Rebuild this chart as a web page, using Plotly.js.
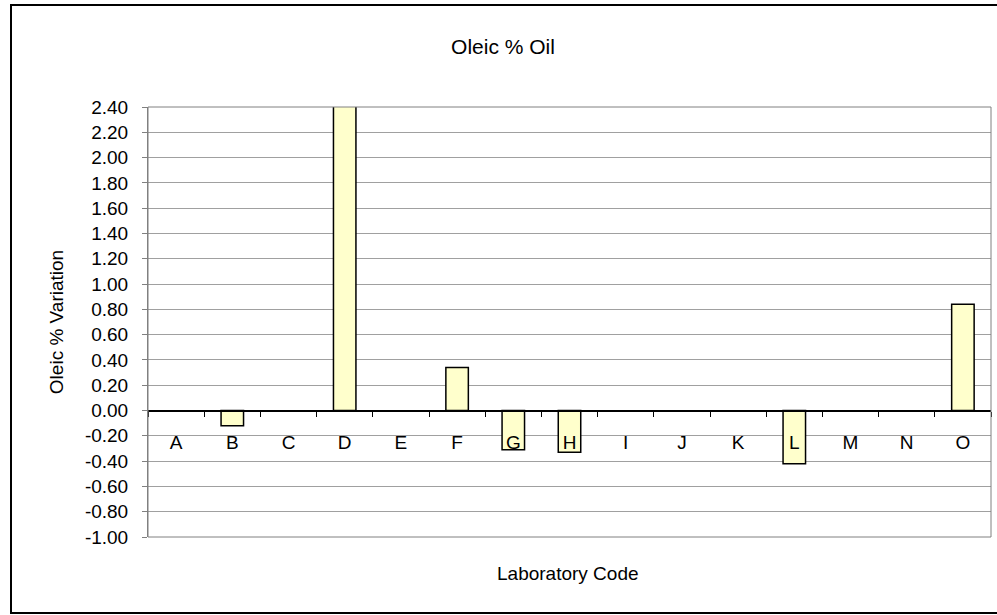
<!DOCTYPE html>
<html>
<head>
<meta charset="utf-8">
<script src="https://cdn.plot.ly/plotly-3.0.1.min.js"></script>
<style>body{margin:0;padding:0;background:#fff;}#chart{width:997px;height:615px;}</style>
</head>
<body>
<div id="chart"></div>
<script>
const labs = ["A","B","C","D","E","F","G","H","I","J","K","L","M","N","O"];
const variation = [null, -0.12, null, 2.60, null, 0.34, -0.31, -0.33, null, null, null, -0.42, null, null, 0.84];
const yTickVals = [-1.0,-0.8,-0.6,-0.4,-0.2,0,0.2,0.4,0.6,0.8,1.0,1.2,1.4,1.6,1.8,2.0,2.2,2.4];
const yTickLabels = ["-1.00","-0.80","-0.60","-0.40","-0.20","0.00","0.20","0.40","0.60","0.80","1.00","1.20","1.40","1.60","1.80","2.00","2.20","2.40"];
const yRange = [-1.0, 2.4];
const chartTitle = "Oleic % Oil";
const yTitle = "Oleic % Variation";
const xTitle = "Laboratory Code";

const W = 997, H = 615;
const m = {l: 148, r: 6, t: 107, b: 78};
const pw = W - m.l - m.r, ph = H - m.t - m.b;
const font = {family: "Liberation Sans, Arial, sans-serif", size: 19, color: "#000"};
const titleFont = {family: "Liberation Sans, Arial, sans-serif", size: 21, color: "#000"};

const trace = {
  type: "bar",
  x: labs,
  y: variation,
  marker: {color: "#FFFFCC", line: {color: "#000", width: 1.5}},
  width: 0.4,
  cliponaxis: true,
  hoverinfo: "x+y"
};

const zeroPos = (0 - yRange[0]) / (yRange[1] - yRange[0]);

const layout = {
  width: W, height: H,
  margin: m,
  paper_bgcolor: "#fff",
  plot_bgcolor: "#fff",
  font: font,
  showlegend: false,
  title: {text: chartTitle, font: titleFont, x: (503 - m.l) / pw, xref: "paper", xanchor: "center", y: (H - 47) / H, yanchor: "middle"},
  xaxis: {
    type: "category",
    anchor: "free",
    position: zeroPos,
    showline: true, linecolor: "#000", linewidth: 2,
    ticks: "outside", tickson: "boundaries", ticklen: 5, tickcolor: "#000", tickwidth: 1,
    ticklabelstandoff: 15,
    showgrid: false,
    zeroline: false,
    tickfont: font
  },
  yaxis: {
    range: yRange,
    tickmode: "array",
    tickvals: yTickVals,
    ticktext: yTickLabels,
    ticks: "outside", ticklen: 5, tickcolor: "#808080",
    showline: true, linecolor: "#808080", linewidth: 1,
    showgrid: true, gridcolor: "#a0a0a0", gridwidth: 1,
    zeroline: false,
    ticklabelstandoff: 10,
    tickfont: font,
    title: {text: yTitle, font: font, standoff: 16}
  },
  annotations: [
    {text: xTitle, xref: "paper", yref: "paper", x: (568 - m.l) / pw, y: -(573 - (m.t + ph)) / ph,
     showarrow: false, font: font, xanchor: "center", yanchor: "middle"}
  ],
  shapes: [
    {type: "rect", xref: "paper", yref: "paper", x0: 0, x1: 1, y0: 0, y1: 1,
     line: {color: "#808080", width: 1}, fillcolor: "rgba(0,0,0,0)", layer: "above"},
    {type: "rect", xref: "paper", yref: "paper",
     x0: (11 - m.l) / pw, x1: (W + 30 - m.l) / pw,
     y0: -(613 - (m.t + ph)) / ph, y1: 1 + (m.t - 5) / ph,
     line: {color: "#000", width: 2}, fillcolor: "rgba(0,0,0,0)", layer: "above"}
  ]
};

Plotly.newPlot("chart", [trace], layout, {displayModeBar: false, staticPlot: true});
</script>
</body>
</html>
